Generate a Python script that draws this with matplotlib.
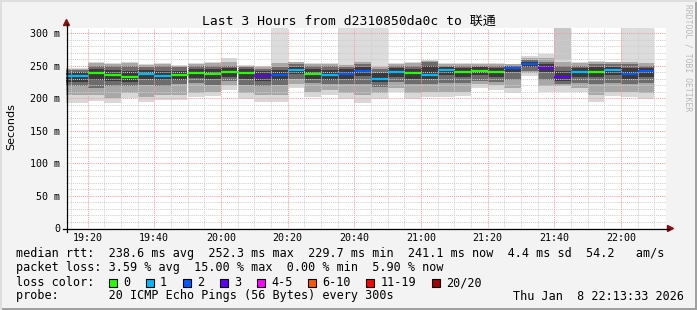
import matplotlib
matplotlib.use("Agg")
import matplotlib.pyplot as plt
from matplotlib.patches import Polygon, Rectangle
from matplotlib.lines import Line2D
import numpy as np

# ---------------- data ----------------
bar_end = ["19:20", "19:25", "19:30", "19:35", "19:40", "19:45", "19:50", "19:55",
           "20:00", "20:05", "20:10", "20:15", "20:20", "20:25", "20:30", "20:35",
           "20:40", "20:45", "20:50", "20:55", "21:00", "21:05", "21:10", "21:15",
           "21:20", "21:25", "21:30", "21:35", "21:40", "21:45", "21:50", "21:55",
           "22:00", "22:05", "22:10"]
median = [233.8, 238.0, 235.9, 232.8, 237.4, 234.4, 235.9, 239.0, 236.9, 240.5,
          239.0, 233.8, 235.4, 243.3, 237.4, 235.9, 237.4, 242.1, 229.7, 240.5,
          238.0, 235.9, 243.5, 239.7, 242.1, 239.7, 246.6, 252.3, 246.2, 232.8,
          239.7, 240.5, 242.6, 237.4, 241.1]
loss = [1, 0, 0, 0, 1, 1, 0, 0, 0, 0, 0, 3, 2, 1, 0, 1, 2, 2, 1, 1,
        0, 1, 1, 0, 0, 0, 2, 2, 3, 3, 1, 0, 1, 2, 2]
smoke_lo = [193, 195, 192, 200, 194, 197, 197, 201, 203, 212, 198, 194, 194, 215, 201,
            205, 199, 193, 199, 209, 198, 201, 201, 203, 215, 213, 208, 234, 210, 210,
            209, 194, 203, 201, 199]
smoke_lo_mid = [205, 205, 200, 208, 202, 205, 205, 208, 210, 220, 208, 205, 205, 222, 210,
                212, 208, 205, 207, 215, 207, 210, 210, 210, 222, 220, 215, 238, 218, 218,
                215, 205, 210, 210, 208]
smoke_lo_core = [218, 216, 218, 218, 220, 219, 221, 223, 220, 226, 220, 219, 220, 229, 223,
                 221, 221, 222, 217, 224, 221, 221, 223, 223, 226, 224, 228, 242, 227, 222,
                 223, 221, 223, 221, 223]
smoke_dark_lo = [225, 228, 226, 224, 230, 227, 228, 231, 229, 233, 230, 226, 228, 237, 230,
                 228, 230, 234, 224, 233, 230, 229, 236, 233, 235, 233, 240, 248, 240, 226,
                 233, 233, 236, 230, 233]
smoke_dark_hi = [240, 245, 243, 242, 243, 242, 242, 245, 244, 246, 245, 241, 243, 248, 244,
                 243, 244, 248, 238, 246, 245, 250, 248, 246, 247, 246, 250, 256, 252, 242,
                 246, 248, 248, 246, 246]
smoke_hi_core = [243, 250, 250, 250, 248, 250, 247, 250, 250, 250, 248, 245, 248, 252, 250,
                 250, 248, 252, 245, 250, 250, 255, 250, 250, 250, 250, 250, 258, 255, 250,
                 250, 252, 252, 252, 250]
smoke_hi_mid = [245, 254, 253, 254, 251, 253, 250, 253, 254, 255, 250, 248, 254, 255, 253,
                253, 251, 256, 248, 253, 254, 257, 253, 253, 253, 253, 252, 262, 262, 256,
                254, 256, 255, 255, 254]
smoke_hi = [246, 256, 254, 256, 252, 254, 251, 254, 256, 262, 251, 249, 256, 256, 254,
            254, 252, 257, 249, 254, 255, 258, 254, 254, 254, 254, 253, 265, 268, 258,
            256, 257, 256, 256, 255]
# number of lost-ping smoke layers reaching the top of the graph
lost_layers = [0, 0, 0, 0, 0, 0, 0, 0, 0, 0, 0, 0, 1, 0, 0, 0, 1, 1, 1, 0,
               0, 0, 0, 0, 0, 0, 0, 0, 0, 2, 0, 0, 0, 1, 1]

y_ticks = [0, 50, 100, 150, 200, 250, 300]
y_tick_labels = ["0", "50 m", "100 m", "150 m", "200 m", "250 m", "300 m"]
x_ticks = ["19:20", "19:40", "20:00", "20:20", "20:40", "21:00", "21:20", "21:40", "22:00"]
t_start, t_end = "19:13:33", "22:13:33"

loss_labels = ["0", "1", "2", "3", "4-5", "6-10", "11-19", "20/20"]
loss_colors = ["#26ff00", "#00b8ff", "#0059ff", "#5e00ff", "#ff00ff", "#ff5500", "#ff0000", "#a10000"]

title = "Last 3 Hours from d2310850da0c to 联通"
legend_rows = [
    "median rtt:  238.6 ms avg  252.3 ms max  229.7 ms min  241.1 ms now  4.4 ms sd  54.2   am/s",
    "packet loss: 3.59 % avg  15.00 % max  0.00 % min  5.90 % now",
    "loss color:",
    "probe:       20 ICMP Echo Pings (56 Bytes) every 300s",
]
stamp = "Thu Jan  8 22:13:33 2026"

# ---------------- helpers ----------------
def tmin(s):
    p = [int(v) for v in s.split(":")]
    m = (p[0] - 19) * 60 + p[1]
    if len(p) > 2:
        m += p[2] / 60.0
    return m

W, H = 697, 310
MONO = "DejaVu Sans Mono"

fig = plt.figure(figsize=(W / 100, H / 100), dpi=100, facecolor="#f3f3f3")

def fx(x):
    return x / W

def fy(y):
    return 1 - y / H

AX_L, AX_R, AX_T, AX_B = 66, 666, 28, 228
ax = fig.add_axes([fx(AX_L), fy(AX_B), (AX_R - AX_L) / W, (AX_B - AX_T) / H])
ax.set_facecolor("white")
x0, x1 = tmin(t_start), tmin(t_end)
YMAX = 307.7
ax.set_xlim(x0, x1)
ax.set_ylim(0, YMAX)
for s in ax.spines.values():
    s.set_visible(False)

# grid
for v in np.arange(10, 310, 10):
    major = v % 50 == 0
    ax.axhline(v, color="#f0a0a0" if major else "#cfcfcf", lw=0.75,
               ls=(0, (1, 1)), zorder=3)
for m in np.arange(15, 195, 5):
    major = (m % 20 == 0)
    ax.axvline(m, color="#f0a0a0" if major else "#cfcfcf", lw=0.75,
               ls=(0, (1, 1)), zorder=3)

# bars
ends = np.array([tmin(t) for t in bar_end])
lefts = np.concatenate([[x0], ends[:-1]])
widths = ends - lefts
lo = np.array(smoke_lo, float)
ll = np.array(lost_layers)

lost_shade = {1: "#dcdcdc", 2: "#c6c6c6"}
for k, col in lost_shade.items():
    sel = ll == k
    ax.bar(lefts[sel], YMAX - lo[sel], width=widths[sel], bottom=lo[sel],
           align="edge", color=col, lw=0, zorder=1)

layers = [(smoke_lo, smoke_hi, "#d8d8d8"),
          (smoke_lo_mid, smoke_hi_mid, "#a8a8a8"),
          (smoke_lo_core, smoke_hi_core, "#6c6c6c"),
          (smoke_dark_lo, smoke_dark_hi, "#3a3a3a")]
for a, b, col in layers:
    a = np.array(a, float)
    b = np.array(b, float)
    ax.bar(lefts, b - a, width=widths, bottom=a, align="edge", color=col, lw=0, zorder=2)

def loss_color(n):
    if n <= 3:
        return loss_colors[n]
    if n <= 5:
        return loss_colors[4]
    if n <= 10:
        return loss_colors[5]
    if n <= 19:
        return loss_colors[6]
    return loss_colors[7]

med_cols = [loss_color(n) for n in loss]
ax.hlines(median, lefts, ends, colors=med_cols, lw=1.6, zorder=4)

# ticks
ax.set_yticks(y_ticks)
ax.set_yticklabels(y_tick_labels, family=MONO, fontsize=7.2)
ax.set_xticks([tmin(t) for t in x_ticks])
ax.set_xticklabels(x_ticks, family=MONO, fontsize=7.2)
ax.tick_params(axis="both", length=0, colors="black")
ax.tick_params(axis="y", pad=4.3)
ax.tick_params(axis="x", pad=3.5)

# axis lines and arrows
fig.add_artist(Line2D([fx(62.5), fx(669)], [fy(228.5), fy(228.5)], color="black", lw=0.9))
fig.add_artist(Line2D([fx(66.5), fx(66.5)], [fy(232), fy(24)], color="black", lw=0.9))
fig.add_artist(Polygon([[fx(63.5), fy(25.5)], [fx(69.5), fy(25.5)], [fx(66.5), fy(19.5)]],
                       closed=True, color="#8b1010", transform=fig.transFigure))
fig.add_artist(Polygon([[fx(667.5), fy(225.5)], [fx(667.5), fy(231.5)], [fx(673.5), fy(228.5)]],
                       closed=True, color="#8b1010", transform=fig.transFigure))

# title / labels
fig.text(fx(348.5), fy(21.5), title, ha="center", va="center", fontsize=9.4,
         family=[MONO, "Noto Sans CJK SC"])
fig.text(fx(11), fy(127), "Seconds", rotation=90, ha="center", va="center",
         fontsize=8.0, family="DejaVu Sans")
fig.text(fx(688), fy(4), "RRDTOOL / TOBI OETIKER", rotation=270, ha="center", va="top",
         fontsize=5.8, family=MONO, color="#b8b8b8")

# legend
PITCH = 7.12
FS = 8.5
row_y = [254, 268, 282.5, 296]
for txt, y in zip(legend_rows, row_y):
    fig.text(fx(16), fy(y), txt, ha="left", va="center", fontsize=FS, family=MONO)
fig.text(fx(684), fy(296), stamp, ha="right", va="center", fontsize=FS, family=MONO)

xb = 108.5
for lab, col in zip(loss_labels, loss_colors):
    fig.add_artist(Rectangle((fx(xb), fy(287)), 8 / W, 8 / H, transform=fig.transFigure,
                             facecolor=col, edgecolor="black", lw=0.8))
    fig.text(fx(xb + 14.6), fy(282.5), lab, ha="left", va="center", fontsize=FS, family=MONO)
    xb += 29.9 + len(lab) * PITCH

# frame
fig.add_artist(Rectangle((0, 0), 1, 2 / H, transform=fig.transFigure, color="#a0a0a0", lw=0))
fig.add_artist(Rectangle((1 - 2 / W, 0), 2 / W, 1, transform=fig.transFigure, color="#a0a0a0", lw=0))
fig.add_artist(Rectangle((0, 1 - 2 / H), 1, 2 / H, transform=fig.transFigure, color="#dedede", lw=0))
fig.add_artist(Rectangle((0, 0), 2 / W, 1, transform=fig.transFigure, color="#dedede", lw=0))

fig.savefig("out.png", dpi=100, facecolor=fig.get_facecolor())
